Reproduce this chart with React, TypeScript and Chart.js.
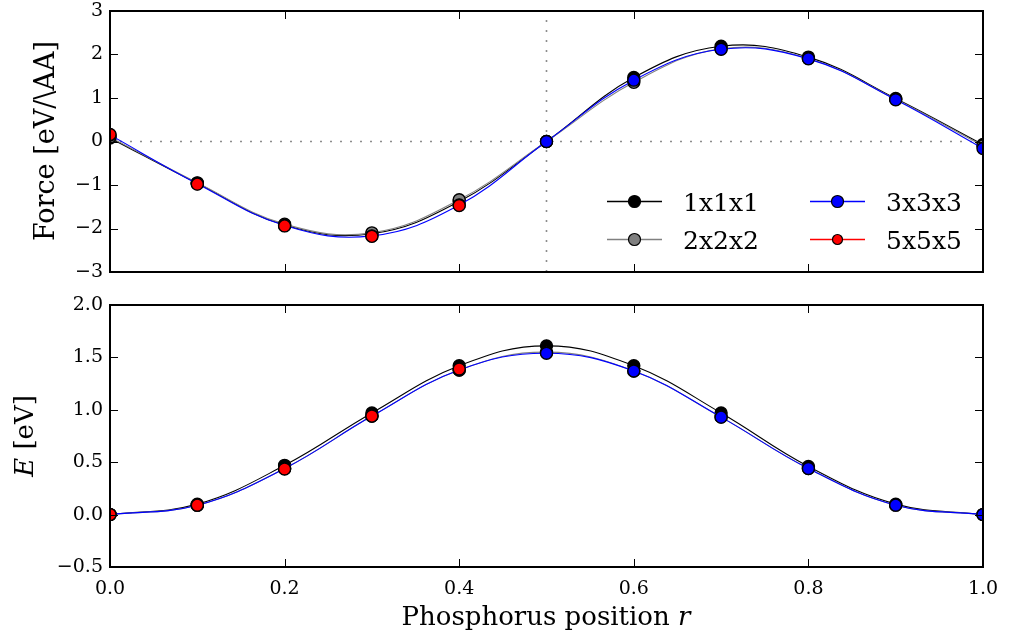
import React, { useEffect, useRef } from "react";
import { Chart, registerables } from "chart.js";

Chart.register(...registerables);

// ---------- data ----------
const rPositions = [0, 0.1, 0.2, 0.3, 0.4, 0.5, 0.6, 0.7, 0.8, 0.9, 1.0];
const seriesLabels = ["1x1x1", "2x2x2", "3x3x3", "5x5x5"];
const seriesColors = ["#000000", "#808080", "#0000ff", "#ff0000"];

const force1x1x1 = [0.08, -0.96, -1.92, -2.12, -1.38, 0.0, 1.47, 2.19, 1.94, 0.99, -0.07];
const force2x2x2 = [0.1, -0.95, -1.9, -2.1, -1.34, 0.0, 1.36, 2.13, 1.91, 0.97, -0.1];
const force3x3x3 = [0.15, -0.97, -1.93, -2.17, -1.46, 0.0, 1.41, 2.12, 1.9, 0.96, -0.16];
const force5x5x5 = [0.16, -0.98, -1.94, -2.18, -1.47];

const energy1x1x1 = [0.0, 0.1, 0.47, 0.97, 1.42, 1.61, 1.42, 0.97, 0.46, 0.1, 0.0];
const energy2x2x2 = [0.0, 0.09, 0.44, 0.94, 1.38, 1.55, 1.37, 0.93, 0.44, 0.09, 0.0];
const energy3x3x3 = [0.0, 0.09, 0.44, 0.94, 1.38, 1.54, 1.37, 0.93, 0.44, 0.09, 0.0];
const energy5x5x5 = [0.0, 0.09, 0.435, 0.94, 1.39];

const zeroLineR = [0, 1];
const zeroLineF = [0, 0];
const midLineR = [0.5, 0.5];
const midLineF = [-3, 3];

const forceTicks = { min: -3, max: 3, step: 1 };
const energyTicks = { min: -0.5, max: 2.0, step: 0.5 };
const rTicks = { min: 0, max: 1, step: 0.2 };

// ---------- helpers ----------
const FONT = "'DejaVu Serif', 'Liberation Serif', serif";
const minus = (s: string) => s.replace("-", "\u2212");
const toPts = (xs: number[], ys: number[]) => ys.map((y, i) => ({ x: xs[i], y }));

function seriesDataset(i: number, values: number[], showLine: boolean) {
  return {
    label: seriesLabels[i],
    data: toPts(rPositions, values),
    borderColor: seriesColors[i],
    borderWidth: 1.1,
    backgroundColor: seriesColors[i],
    pointBackgroundColor: seriesColors[i],
    pointBorderColor: "#000000",
    pointBorderWidth: 1.4,
    pointRadius: 6,
    tension: 0.4,
    showLine,
    clip: 0,
    order: 4 - i,
  };
}

const framePlugin = {
  id: "frameTicks",
  afterDatasetsDraw(chart: any) {
    const { ctx, chartArea: a, scales } = chart;
    ctx.save();
    ctx.strokeStyle = "#000";
    ctx.lineWidth = 1;
    const L = 8;
    scales.x.ticks.forEach((t: any) => {
      const px = Math.round(scales.x.getPixelForValue(t.value)) + 0.5;
      ctx.beginPath();
      ctx.moveTo(px, a.bottom);
      ctx.lineTo(px, a.bottom - L);
      ctx.moveTo(px, a.top);
      ctx.lineTo(px, a.top + L);
      ctx.stroke();
    });
    scales.y.ticks.forEach((t: any) => {
      const py = Math.round(scales.y.getPixelForValue(t.value)) + 0.5;
      ctx.beginPath();
      ctx.moveTo(a.left, py);
      ctx.lineTo(a.left + L, py);
      ctx.moveTo(a.right, py);
      ctx.lineTo(a.right - L, py);
      ctx.stroke();
    });
    ctx.lineWidth = 2;
    ctx.strokeRect(a.left, a.top, a.right - a.left, a.bottom - a.top);
    ctx.restore();
  },
};

type Part = { text: string; italic?: boolean };
function drawParts(ctx: CanvasRenderingContext2D, parts: Part[], size: number) {
  const fontOf = (p: Part) => `${p.italic ? "italic " : ""}${size}px ${FONT}`;
  let total = 0;
  const widths = parts.map((p) => {
    ctx.font = fontOf(p);
    const w = ctx.measureText(p.text).width;
    total += w;
    return w;
  });
  let x = -total / 2;
  ctx.textAlign = "left";
  ctx.textBaseline = "alphabetic";
  ctx.fillStyle = "#000";
  parts.forEach((p, i) => {
    ctx.font = fontOf(p);
    ctx.fillText(p.text, x, 0);
    x += widths[i];
  });
}

function titlePlugin(id: string, parts: Part[], x: number, y: number, rotate: boolean, size: number) {
  return {
    id,
    afterDraw(chart: any) {
      const ctx = chart.ctx;
      ctx.save();
      ctx.translate(x, y);
      if (rotate) ctx.rotate(-Math.PI / 2);
      drawParts(ctx, parts, size);
      ctx.restore();
    },
  };
}

const legendPlugin = {
  id: "customLegend",
  afterDraw(chart: any) {
    const ctx = chart.ctx;
    const entries = [
      { i: 0, x: 607, y: 201 },
      { i: 1, x: 607, y: 239 },
      { i: 2, x: 810, y: 201 },
      { i: 3, x: 810, y: 239 },
    ];
    ctx.save();
    entries.forEach(({ i, x, y }) => {
      ctx.strokeStyle = seriesColors[i];
      ctx.lineWidth = 1.5;
      ctx.beginPath();
      ctx.moveTo(x, y + 0.5);
      ctx.lineTo(x + 55, y + 0.5);
      ctx.stroke();
      ctx.beginPath();
      ctx.arc(x + 27.5, y + 0.5, i === 3 ? 5 : 6, 0, Math.PI * 2);
      ctx.fillStyle = seriesColors[i];
      ctx.fill();
      ctx.lineWidth = 1.2;
      ctx.strokeStyle = "#000";
      ctx.stroke();
      ctx.fillStyle = "#000";
      ctx.font = `25px ${FONT}`;
      ctx.textAlign = "left";
      ctx.textBaseline = "alphabetic";
      ctx.fillText(seriesLabels[i], x + 76, y + 10);
    });
    ctx.restore();
  },
};

function linearAxis(t: { min: number; max: number; step: number }, decimals: number, showLabels: boolean, fitSize: number, isX: boolean) {
  return {
    type: "linear",
    min: t.min,
    max: t.max,
    afterFit(scale: any) {
      if (isX) {
        scale.height = fitSize;
        scale.paddingLeft = 0;
        scale.paddingRight = 0;
      } else {
        scale.width = fitSize;
        scale.paddingTop = 0;
        scale.paddingBottom = 0;
      }
    },
    grid: { display: false, drawTicks: false },
    border: { display: false },
    ticks: {
      stepSize: t.step,
      display: showLabels,
      autoSkip: false,
      maxRotation: 0,
      padding: isX ? 13 : 7,
      color: "#000",
      font: { family: FONT, size: 19, lineHeight: 1 },
      callback: (v: number) => minus(Number(v).toFixed(decimals)),
    },
  };
}

function baseOptions(padTop: number, x: any, y: any) {
  return {
    responsive: false,
    animation: false,
    devicePixelRatio: 1,
    events: [],
    layout: { padding: { left: 0, right: 26, top: padTop, bottom: 0 } },
    plugins: { legend: { display: false }, tooltip: { enabled: false } },
    scales: { x, y },
  };
}

export default function App() {
  const topRef = useRef<HTMLCanvasElement>(null);
  const botRef = useRef<HTMLCanvasElement>(null);

  useEffect(() => {
    const refLine = (xs: number[], ys: number[]) => ({
      data: toPts(xs, ys),
      borderColor: "#8c8c8c",
      borderWidth: 1.6,
      borderDash: [2, 8],
      pointRadius: 0,
      tension: 0,
      clip: 0,
      order: 10,
    });

    const top = new Chart(topRef.current as HTMLCanvasElement, {
      type: "line",
      data: {
        datasets: [
          seriesDataset(0, force1x1x1, true),
          seriesDataset(1, force2x2x2, true),
          seriesDataset(2, force3x3x3, true),
          seriesDataset(3, force5x5x5, false),
          refLine(zeroLineR, zeroLineF),
          refLine(midLineR, midLineF),
        ] as any,
      },
      options: baseOptions(
        11,
        linearAxis(rTicks, 1, false, 18, true),
        linearAxis(forceTicks, 0, true, 110, false)
      ) as any,
      plugins: [
        framePlugin,
        legendPlugin,
        titlePlugin("forceTitle", [{ text: "Force [eV/\\AA]" }], 54, 141, true, 27),
      ] as any,
    });

    const bot = new Chart(botRef.current as HTMLCanvasElement, {
      type: "line",
      data: {
        datasets: [
          seriesDataset(0, energy1x1x1, true),
          seriesDataset(1, energy2x2x2, true),
          seriesDataset(2, energy3x3x3, true),
          seriesDataset(3, energy5x5x5, false),
        ] as any,
      },
      options: baseOptions(
        15,
        linearAxis(rTicks, 1, true, 68, true),
        linearAxis(energyTicks, 1, true, 110, false)
      ) as any,
      plugins: [
        framePlugin,
        titlePlugin("energyTitle", [{ text: "E", italic: true }, { text: " [eV]" }], 33, 146, true, 26),
        titlePlugin("rTitle", [{ text: "Phosphorus position " }, { text: "r", italic: true }], 546, 335, false, 26),
      ] as any,
    });

    return () => {
      top.destroy();
      bot.destroy();
    };
  }, []);

  return (
    <div style={{ position: "absolute", left: 0, top: 0, width: 1009, height: 635, background: "#fff" }}>
      <canvas
        ref={topRef}
        width={1009}
        height={290}
        style={{ position: "absolute", left: 0, top: 0, width: 1009, height: 290 }}
      />
      <canvas
        ref={botRef}
        width={1009}
        height={345}
        style={{ position: "absolute", left: 0, top: 290, width: 1009, height: 345 }}
      />
    </div>
  );
}
